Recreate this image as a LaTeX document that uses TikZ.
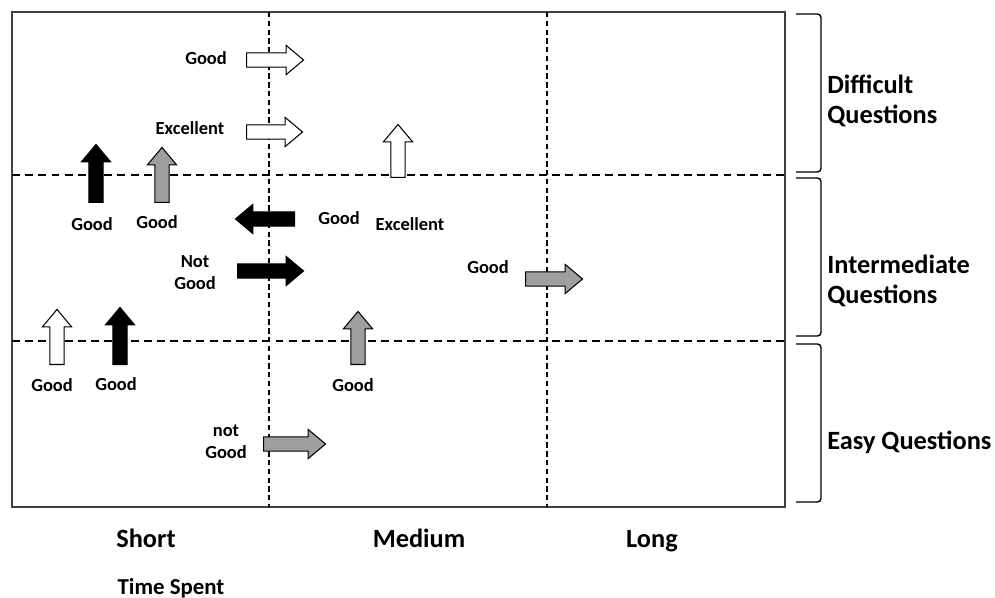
\documentclass[tikz,border=0pt]{standalone}
\usepackage{fontspec}
\setmainfont{Carlito}
\usetikzlibrary{shapes.arrows}

\begin{document}
\begin{tikzpicture}[x=0.02cm,y=-0.02cm,
  arr/.style={single arrow, draw=black, line width=0.6pt, inner sep=3.8pt, anchor=tail,
    single arrow head extend=4.2pt, single arrow tip angle=80, minimum height={#1*0.02cm}},
  warr/.style={arr=#1, fill=white},
  barr/.style={arr=#1, fill=black},
  garr/.style={arr=#1, fill=gray!75},
  lbl/.style={font=\bfseries\fontsize{10.5}{12.5}\selectfont, align=center, inner sep=0pt},
  cat/.style={font=\bfseries\fontsize{15}{17}\selectfont, align=left, inner sep=0pt},
  vdiv/.style={line width=0.8pt, dash pattern=on 3pt off 2pt},
  hdiv/.style={line width=0.8pt, dash pattern=on 4.5pt off 3pt}]
  \useasboundingbox (0,0) rectangle (995,598);
  % Frame and grid
  \draw[line width=1.1pt, black!75] (12,12) rectangle (785,507);
  \foreach \x in {269,547}{\draw[vdiv] (\x,12) -- (\x,507);}
  \foreach \y in {175,341}{\draw[hdiv] (12,\y) -- (785,\y);}
  % Brackets for the question levels
  \foreach \t/\b in {14/172,178/336,344/502}{\draw[line width=0.8pt, rounded corners=2pt] (796,\t) -- (821,\t) -- (821,\b) -- (796,\b);}
  % Arrows (placed by their tails)
  \node[warr=57] (ag1) at (246,60) {};
  \node[warr=56] (ae1) at (246,132) {};
  \node[warr=53, rotate=90] (aw3) at (398,178) {};
  \node[barr=58, rotate=90] (ab4) at (96,203) {};
  \node[garr=55, rotate=90] (ag5) at (162,203) {};
  \node[barr=59, rotate=180] (ab6) at (295,219) {};
  \node[barr=66] (ab9) at (237,271) {};
  \node[garr=57] (ag10) at (525,279) {};
  \node[warr=55, rotate=90] (aw11) at (57,365) {};
  \node[barr=57, rotate=90] (ab12) at (120,365) {};
  \node[garr=53, rotate=90] (ag13) at (358,365) {};
  \node[garr=62] (ag15) at (263,444) {};
  % Arrow labels
  \node[lbl] (lg1) at (206,58) {Good};
  \node[lbl] (le1) at (190,128) {Excellent};
  \node[lbl] (lg4) at (92,224) {Good};
  \node[lbl] (lg5) at (157,222) {Good};
  \node[lbl] (lg6) at (339,218) {Good};
  \node[lbl] (le3) at (410,224) {Excellent};
  \node[lbl] (lng9) at (195,273) {Not\\Good};
  \node[lbl] (lg10) at (488,267) {Good};
  \node[lbl] (lg11) at (52,385) {Good};
  \node[lbl] (lg12) at (116,384) {Good};
  \node[lbl] (lg13) at (353,385) {Good};
  \node[lbl] (lng15) at (226,442) {not\\Good};
  % Question levels
  \node[cat, anchor=west] (diff) at (827,101) {Difficult\\Questions};
  \node[cat, anchor=west] (inter) at (827,281) {Intermediate\\Questions};
  \node[cat, anchor=west] (easy) at (827,442) {Easy Questions};
  % Time axis
  \node[cat, anchor=base] (short) at (146,547) {Short};
  \node[cat, anchor=base] (medium) at (419,547) {Medium};
  \node[cat, anchor=base] (long) at (652,547) {Long};
  \node[font=\bfseries\fontsize{13}{15}\selectfont, inner sep=0pt, anchor=base] (time) at (171,594) {Time Spent};
\end{tikzpicture}
\end{document}
